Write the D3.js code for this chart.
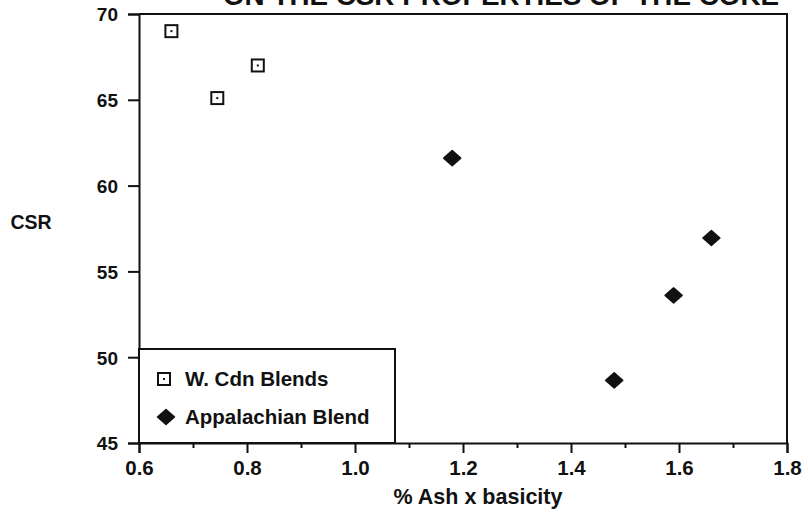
<!DOCTYPE html>
<html>
<head>
<meta charset="utf-8">
<script src="https://cdn.jsdelivr.net/npm/d3@7/dist/d3.min.js"></script>
<style>
  html, body { margin: 0; padding: 0; background: #fff; }
  svg { display: block; }
  text { font-family: "Liberation Sans", Arial, Helvetica, sans-serif; font-weight: bold; fill: #111; }
</style>
</head>
<body>
<svg id="chart" width="808" height="515"></svg>
<script>
// CSR versus % ash x basicity for the two blend groups
const titleText = "ON THE CSR PROPERTIES OF THE COKE";
const xLabel = "% Ash x basicity";
const yLabel = "CSR";
const seriesNames = ["W. Cdn Blends", "Appalachian Blend"];

const wcdnX = [0.66, 0.745, 0.82];
const wcdnY = [69.0, 65.1, 67.0];
const appX = [1.18, 1.48, 1.59, 1.66];
const appY = [61.6, 48.65, 53.6, 56.95];

const xMajorTicks = [0.6, 0.8, 1.0, 1.2, 1.4, 1.6, 1.8];
const xMinorTicks = [0.7, 0.9, 1.1, 1.3, 1.5, 1.7];
const yTicks = [45, 50, 55, 60, 65, 70];

const svg = d3.select("#chart");
const plot = { left: 139, right: 787, top: 14, bottom: 443 };

const x = d3.scaleLinear().domain([0.6, 1.8]).range([plot.left, plot.right]);
const y = d3.scaleLinear().domain([45, 70]).range([plot.bottom, plot.top]);

const ink = "#111";

// title, only its lower part falls inside the page
const title = svg.append("text")
  .attr("x", 501).attr("y", 5)
  .attr("text-anchor", "middle")
  .style("font-size", "24px")
  .text(titleText);
const tw = title.node().getComputedTextLength();
title.style("font-size", (24 * 556 / tw).toFixed(2) + "px");

// frame: top and right edges
svg.append("path")
  .attr("d", `M${plot.left},${plot.top}H${plot.right}V${plot.bottom}`)
  .attr("fill", "none").attr("stroke", ink).attr("stroke-width", 2);

// x axis, major and minor ticks
const xAxis = svg.append("g")
  .attr("transform", `translate(0,${plot.bottom})`)
  .call(d3.axisBottom(x).tickValues(xMajorTicks).tickSize(10).tickPadding(7)
    .tickFormat(d3.format(".1f")));
svg.append("g")
  .attr("transform", `translate(0,${plot.bottom})`)
  .call(d3.axisBottom(x).tickValues(xMinorTicks).tickSize(5).tickFormat(""))
  .select(".domain").remove();

// y axis
const yAxis = svg.append("g")
  .attr("transform", `translate(${plot.left},0)`)
  .call(d3.axisLeft(y).tickValues(yTicks).tickSize(11).tickPadding(10)
    .tickFormat(d3.format("d")));

svg.selectAll(".domain").attr("stroke", ink).attr("stroke-width", 2);
svg.selectAll(".tick line").attr("stroke", ink).attr("stroke-width", 2);
svg.selectAll(".tick text")
  .style("font-family", "\"Liberation Sans\", Arial, Helvetica, sans-serif")
  .style("font-weight", "bold")
  .attr("fill", ink);
xAxis.selectAll(".tick text").style("font-size", "20.5px");
yAxis.selectAll(".tick text").style("font-size", "19px").attr("dy", "0.36em");

// axis titles
svg.append("text")
  .attr("x", 478).attr("y", 504)
  .attr("text-anchor", "middle")
  .style("font-size", "21.5px")
  .text(xLabel);
svg.append("text")
  .attr("x", 31).attr("y", 229)
  .attr("text-anchor", "middle")
  .style("font-size", "19.5px")
  .text(yLabel);

// marker shapes
function drawSquare(g, cx, cy) {
  g.append("rect")
    .attr("x", cx - 6).attr("y", cy - 6)
    .attr("width", 12).attr("height", 12)
    .attr("fill", "#fff").attr("stroke", ink).attr("stroke-width", 2);
  g.append("rect")
    .attr("x", cx - 1).attr("y", cy - 1)
    .attr("width", 2).attr("height", 2)
    .attr("fill", ink);
}
function drawDiamond(g, cx, cy) {
  g.append("path")
    .attr("d", `M${cx},${cy - 7.5}L${cx + 8.5},${cy}L${cx},${cy + 7.5}L${cx - 8.5},${cy}Z`)
    .attr("fill", ink).attr("stroke", ink).attr("stroke-width", 1.5)
    .attr("stroke-linejoin", "round");
}

const pts = svg.append("g");
wcdnX.forEach((v, i) => drawSquare(pts, x(v), y(wcdnY[i])));
appX.forEach((v, i) => drawDiamond(pts, x(v), y(appY[i])));

// legend
const legend = svg.append("g");
legend.append("rect")
  .attr("x", plot.left).attr("y", 349)
  .attr("width", 395 - plot.left).attr("height", plot.bottom - 349)
  .attr("fill", "#fff").attr("stroke", ink).attr("stroke-width", 2);
drawSquare(legend, 164, 379);
drawDiamond(legend, 166, 417);
legend.append("text")
  .attr("x", 185).attr("y", 386)
  .style("font-size", "20.5px")
  .text(seriesNames[0]);
legend.append("text")
  .attr("x", 185).attr("y", 424)
  .style("font-size", "20.5px")
  .text(seriesNames[1]);
</script>
</body>
</html>
